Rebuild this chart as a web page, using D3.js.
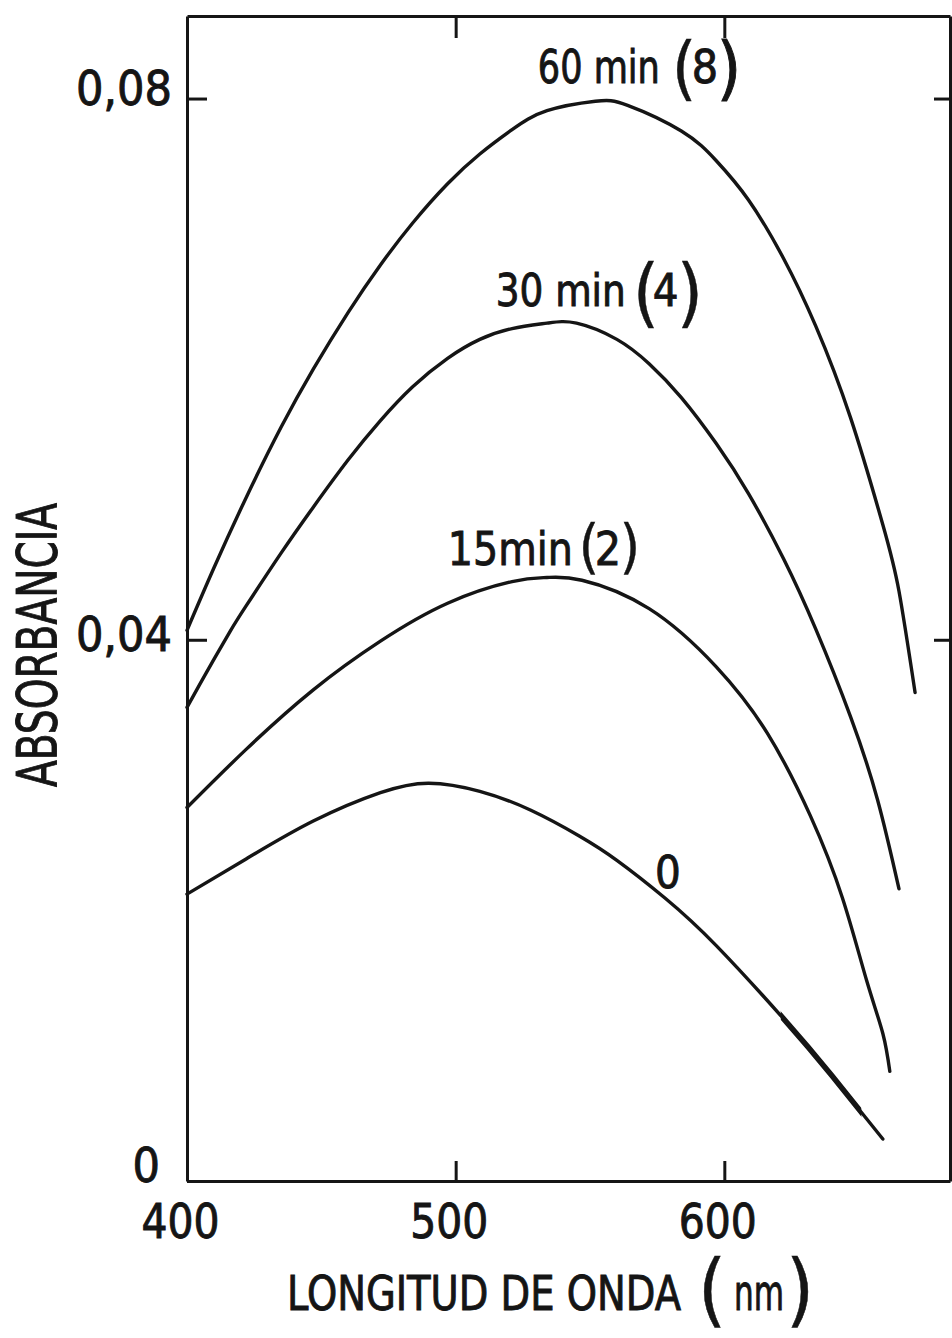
<!DOCTYPE html>
<html>
<head>
<meta charset="utf-8">
<script src="https://cdn.jsdelivr.net/npm/d3@7"></script>
<style>
  html, body { margin: 0; padding: 0; background: #ffffff; }
  svg { display: block; }
  text {
    font-family: "DejaVu Sans Condensed", "DejaVu Sans", sans-serif;
    font-stretch: condensed;
    fill: #151515;
    stroke: #151515;
    stroke-width: 0.9px;
  }
</style>
</head>
<body>
<svg id="chart" width="952" height="1338"></svg>
<script>
// Absorption spectra recorded at increasing reaction times
const wl60  = [400, 410, 422, 435, 447, 460, 472, 484, 497, 509, 521, 534, 552, 564, 584, 597, 609, 622, 634, 647, 659, 665, 671];
const abs60 = [0.0407, 0.0453, 0.0505, 0.0557, 0.0600, 0.0642, 0.0677, 0.0708, 0.0737, 0.0759, 0.0777, 0.0791, 0.0798, 0.0795, 0.0776, 0.0754, 0.0725, 0.0682, 0.0632, 0.0564, 0.0485, 0.0436, 0.0361];

const wl30  = [400, 407, 416, 422, 435, 447, 460, 472, 484, 497, 509, 521, 534, 545, 560, 572, 584, 597, 609, 622, 634, 647, 657, 665];
const abs30 = [0.0350, 0.0375, 0.0406, 0.0425, 0.0464, 0.0498, 0.0533, 0.0562, 0.0587, 0.0608, 0.0622, 0.0630, 0.0634, 0.0634, 0.0622, 0.0604, 0.0579, 0.0545, 0.0508, 0.0460, 0.0408, 0.0343, 0.0282, 0.0216];

const wl15  = [400, 422, 447, 472, 497, 521, 534, 547, 572, 597, 616, 632, 644, 653, 659, 661.6];
const abs15 = [0.0276, 0.0319, 0.0363, 0.0399, 0.0427, 0.0443, 0.0446, 0.0444, 0.0423, 0.0380, 0.0331, 0.0270, 0.0209, 0.0148, 0.0109, 0.0081];

const wl0   = [400, 422, 447, 472, 490, 509, 528, 546, 560, 578, 597, 622, 640, 659];
const abs0  = [0.0212, 0.0238, 0.0266, 0.0287, 0.0294, 0.0288, 0.0274, 0.0255, 0.0237, 0.0209, 0.0174, 0.0120, 0.0078, 0.0031];

const xTicks = [400, 500, 600];
const yTicks = [0, 0.04, 0.08];
const xTitle = "LONGITUD DE ONDA";
const xUnit = "nm";
const yTitle = "ABSORBANCIA";

const ink = "#151515";
const svg = d3.select("#chart");

const x = d3.scaleLinear().domain([400, 684]).range([187, 950]);
const y = d3.scaleLinear().domain([0, 0.0861]).range([1181, 16]);

const commaFmt = d => d === 0 ? "0" : d3.format(".2f")(d).replace(".", ",");

function styleAxis(g) {
  g.select(".domain").attr("stroke", ink).attr("stroke-width", 3);
  g.selectAll(".tick line").attr("stroke", ink).attr("stroke-width", 3);
}

// frame: bottom axis with labels
const gBottom = svg.append("g")
  .attr("transform", `translate(0,${y(0)})`)
  .call(d3.axisBottom(x).tickValues(xTicks).tickSizeInner(-20).tickSizeOuter(0)
        .tickPadding(23).tickFormat(d3.format("d")));
styleAxis(gBottom);
gBottom.selectAll(".tick text")
  .attr("font-size", 48).attr("fill", ink).attr("dx", -7)
  .attr("textLength", 78).attr("lengthAdjust", "spacingAndGlyphs");

// frame: left axis with labels
const gLeft = svg.append("g")
  .attr("transform", `translate(${x(400)},0)`)
  .call(d3.axisLeft(y).tickValues(yTicks).tickSizeInner(-20).tickSizeOuter(0)
        .tickPadding(15).tickFormat(commaFmt));
styleAxis(gLeft);
gLeft.selectAll(".tick text").attr("font-size", 48).attr("fill", ink);
gLeft.selectAll(".tick text").filter(d => d === 0).attr("dx", -12).attr("dy", "0.02em");
gLeft.selectAll(".tick text").filter(d => d === 0.04).attr("dy", "0.22em");
gLeft.selectAll(".tick text").filter(d => d === 0.08).attr("dy", "0.13em");

// frame: right and top edges, inward ticks only
const gRight = svg.append("g")
  .attr("transform", `translate(${x(684)},0)`)
  .call(d3.axisRight(y).tickValues(yTicks.slice(1)).tickSizeInner(-16).tickSizeOuter(0).tickFormat(""));
styleAxis(gRight);

const gTop = svg.append("g")
  .attr("transform", `translate(0,${y(0.0861)})`)
  .call(d3.axisTop(x).tickValues(xTicks.slice(1)).tickSizeInner(-22).tickSizeOuter(0).tickFormat(""));
styleAxis(gTop);

// spectra
const series = [
  { wl: wl60, a: abs60 },
  { wl: wl30, a: abs30 },
  { wl: wl15, a: abs15 },
  { wl: wl0,  a: abs0 }
];
const line = d3.line()
  .x(d => x(d[0]))
  .y(d => y(d[1]))
  .curve(d3.curveNatural);

const curves = svg.append("g");
curves.selectAll("path")
  .data(series)
  .join("path")
  .attr("d", s => line(d3.zip(s.wl, s.a)))
  .attr("fill", "none")
  .attr("stroke", ink)
  .attr("stroke-width", 3.4)
  .attr("stroke-linecap", "round")
  .attr("stroke-linejoin", "round");

// pen retrace on the baseline spectrum: heavier stroke over a short stretch
svg.append("clipPath").attr("id", "retrace")
  .append("rect")
  .attr("x", x(621)).attr("y", y(0.02))
  .attr("width", x(651) - x(621)).attr("height", y(0) - y(0.02));
curves.append("path")
  .attr("d", line(d3.zip(wl0, abs0)))
  .attr("clip-path", "url(#retrace)")
  .attr("fill", "none")
  .attr("stroke", ink)
  .attr("stroke-width", 5.5)
  .attr("stroke-linecap", "round");

// curve labels: pieces placed from a baseline anchor (wavelength, absorbance)
function label(wl, a, parts) {
  const g = svg.append("g").attr("transform", `translate(${x(wl)},${y(a)})`);
  parts.forEach(p => {
    const t = g.append("text")
      .attr("x", p.dx).attr("y", p.dy || 0)
      .attr("font-size", p.size)
      .text(p.t);
    if (p.len) t.attr("textLength", p.len).attr("lengthAdjust", "spacingAndGlyphs");
    if (p.thin) t.style("stroke-width", "0.4px");
  });
}

label(530.6, 0.08116, [
  { t: "60 min", dx: 0,   size: 46, len: 122 },
  { t: "(",      dx: 134, dy: 9, size: 70, thin: true },
  { t: "8",      dx: 154, size: 46 },
  { t: ")",      dx: 179, dy: 9, size: 70 }
]);
label(514.9, 0.06468, [
  { t: "30 min", dx: 0,   size: 45, len: 130 },
  { t: "(",      dx: 137, dy: 12, size: 75, thin: true },
  { t: "4",      dx: 157, size: 45 },
  { t: ")",      dx: 181, dy: 12, size: 75, thin: true }
]);
label(497.1, 0.04549, [
  { t: "15min",  dx: 0,   size: 47, len: 125 },
  { t: "(",      dx: 131, dy: 2, size: 58, thin: true },
  { t: "2",      dx: 147, size: 46 },
  { t: ")",      dx: 172, dy: 2, size: 58, thin: true }
]);
label(574.2, 0.02164, [
  { t: "0", dx: 0, size: 45 }
]);

// axis titles
svg.append("text")
  .attr("transform", `translate(56,645) rotate(-90)`)
  .attr("text-anchor", "middle")
  .attr("font-size", 55)
  .attr("textLength", 284).attr("lengthAdjust", "spacingAndGlyphs")
  .text(yTitle);

const xt = svg.append("g").attr("transform", `translate(${x(400)},${y(0)})`);
xt.append("text").attr("x", 100).attr("y", 129).attr("font-size", 48)
  .attr("textLength", 394).attr("lengthAdjust", "spacingAndGlyphs").text(xTitle);
xt.append("text").attr("x", 511).attr("y", 136).attr("font-size", 80)
  .style("stroke-width", "0.5px").text("(");
xt.append("text").attr("x", 547).attr("y", 129).attr("font-size", 50)
  .attr("textLength", 50).attr("lengthAdjust", "spacingAndGlyphs").text(xUnit);
xt.append("text").attr("x", 599).attr("y", 136).attr("font-size", 80)
  .style("stroke-width", "0.5px").text(")");
</script>
</body>
</html>
